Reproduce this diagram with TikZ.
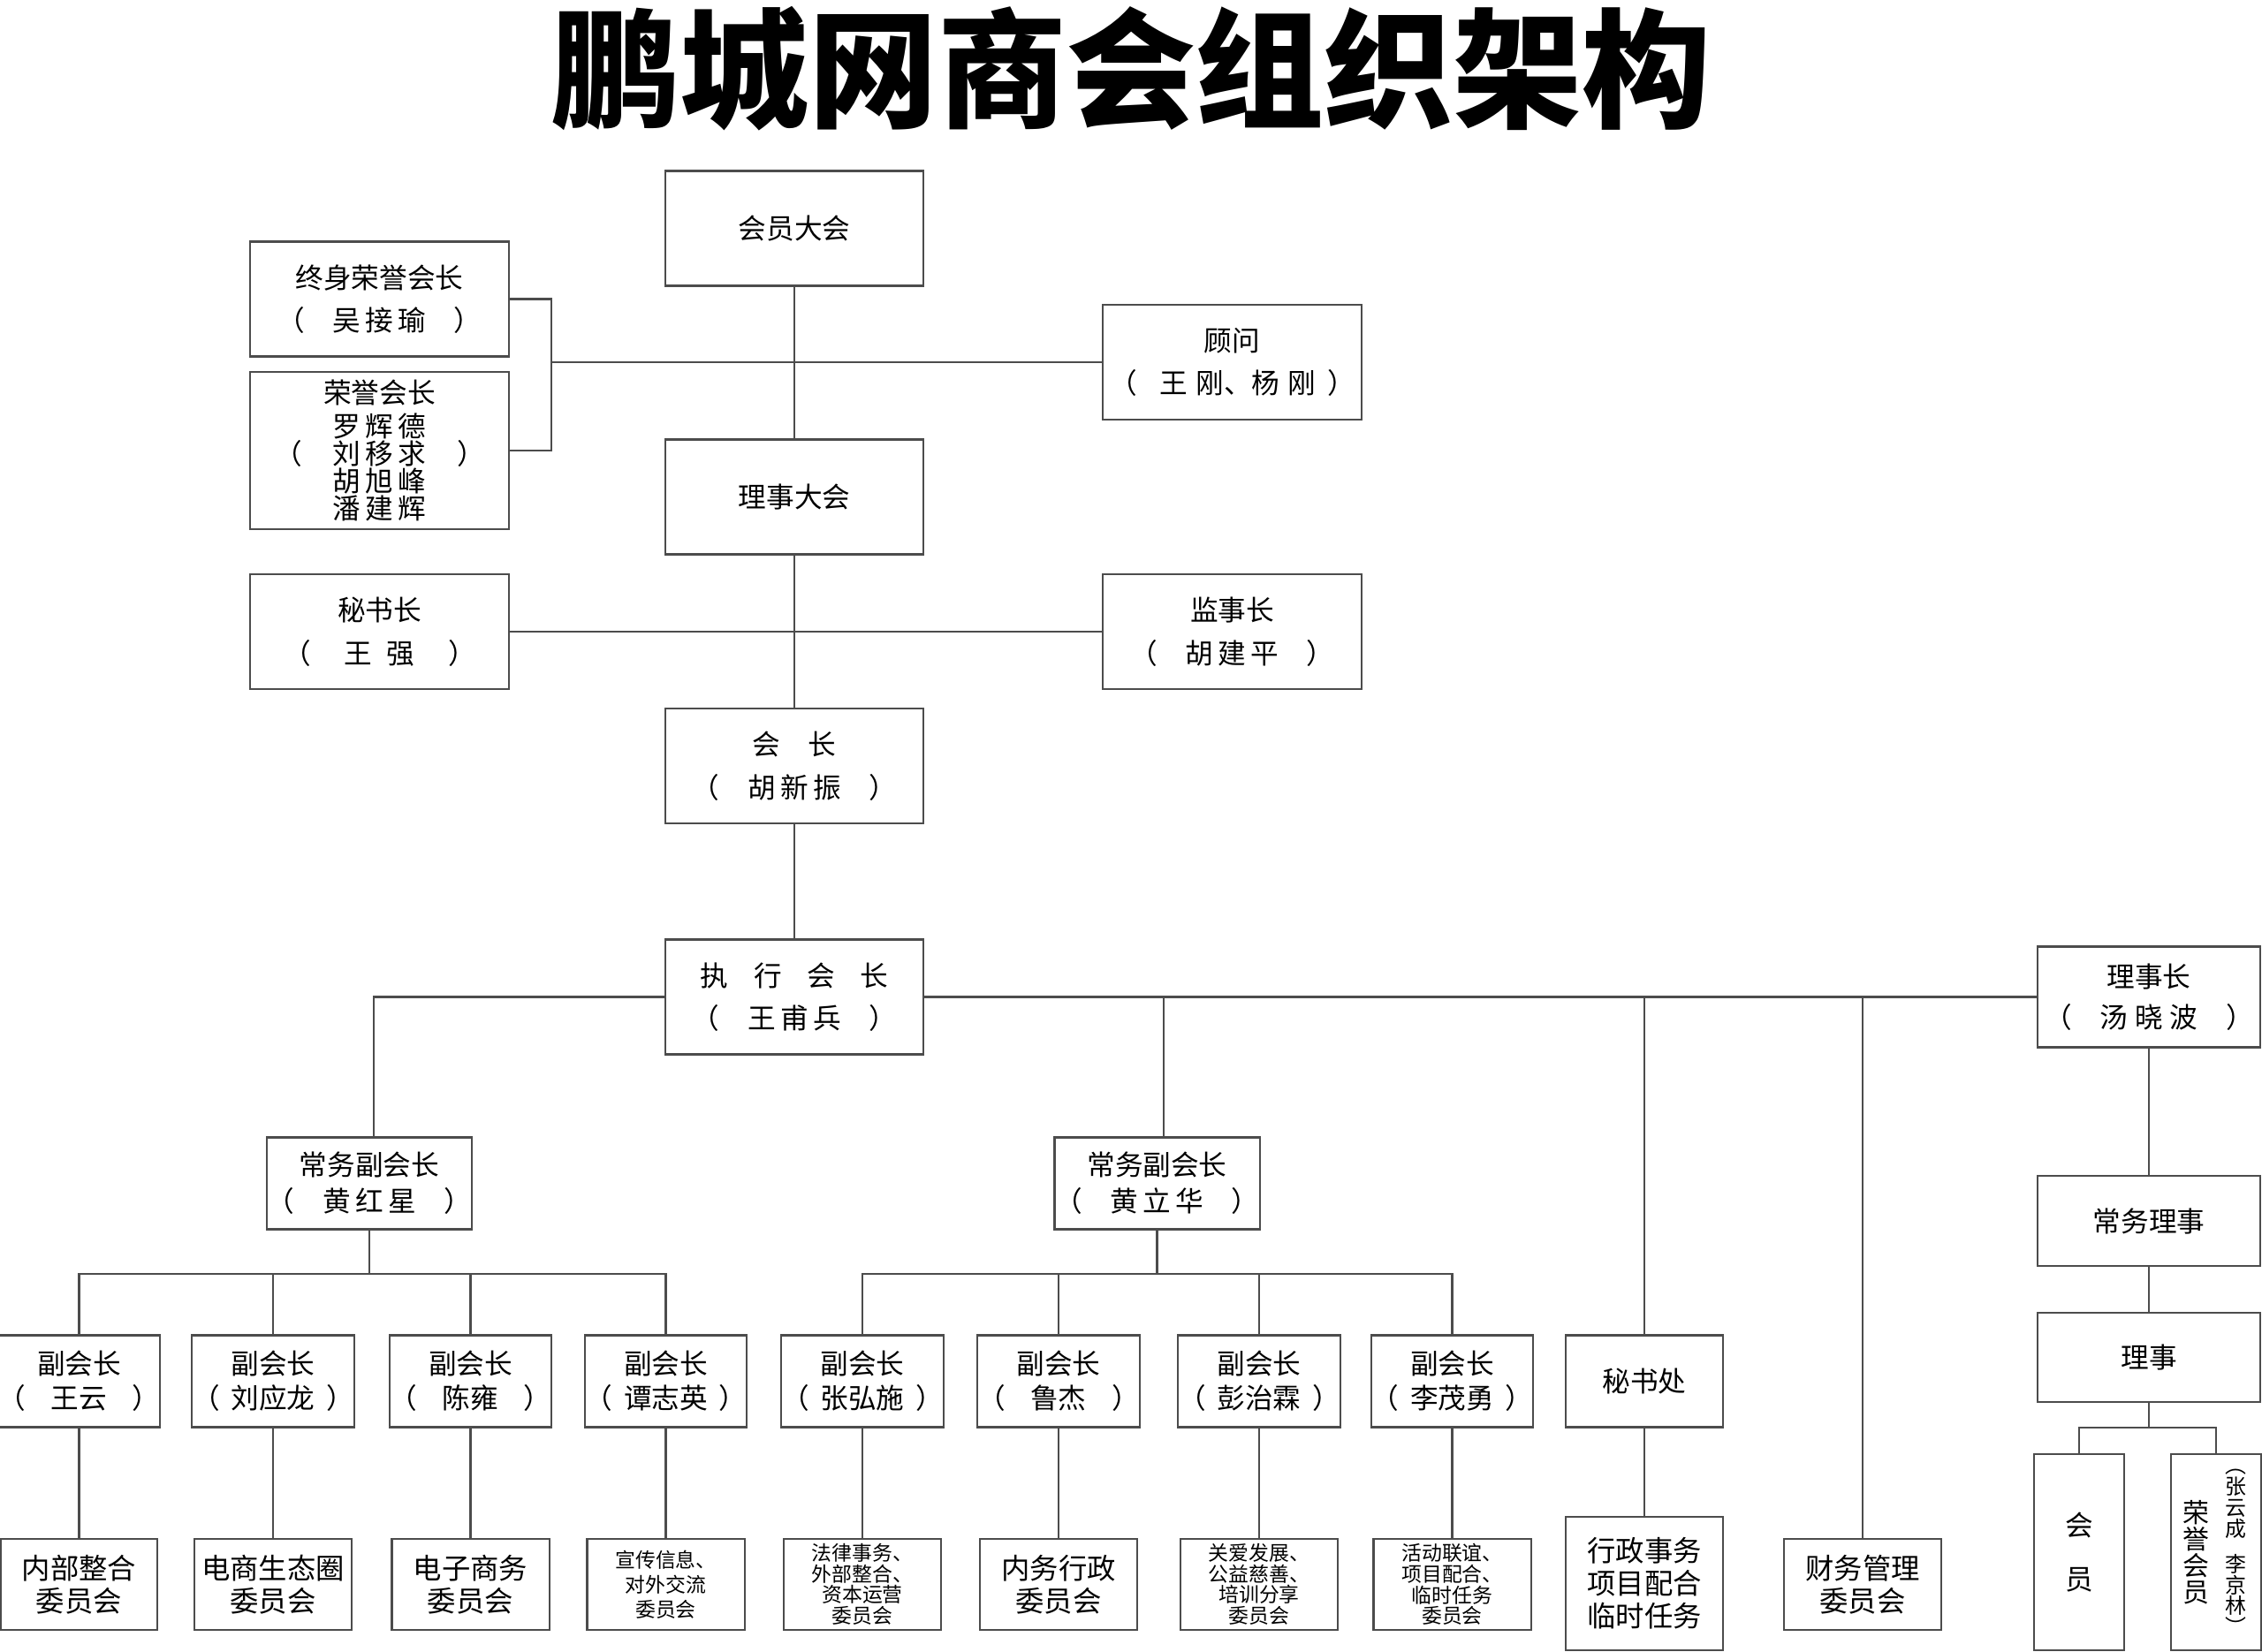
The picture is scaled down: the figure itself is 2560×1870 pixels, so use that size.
\documentclass[tikz,border=0pt]{standalone}
\usepackage{fontspec}
\setmainfont{Noto Sans CJK SC}

\begin{document}
\begin{tikzpicture}[x=0.01cm,y=-0.01cm,
		xian/.style={draw=black!70,line width=0.6pt},
		kuang/.style={xian,align=center,inner sep=0pt,font=\fontsize{9}{13.8}\selectfont},
		da/.style={kuang,minimum width=2.92cm,minimum height=1.3cm},
		cw/.style={kuang,minimum width=2.29cm,minimum height=1.04cm,font=\fontsize{9}{11.7}\selectfont},
		fh/.style={kuang,minimum width=1.78cm,minimum height=1.04cm,font=\fontsize{9}{11}\selectfont},
		wy/.style={kuang,minimum width=1.78cm,minimum height=1.03cm,font=\fontsize{9.2}{10.5}\selectfont},
		xiao/.style={font=\fontsize{6.5}{6.7}\selectfont},
		lsk/.style={kuang,minimum width=2.52cm}]
	\useasboundingbox (0,0) rectangle (2560,1870);
	\node (bt) at (1280,77.5) {\fontsize{41.5}{41.5}\selectfont\bfseries 鹏城网商会组织架构};

	\node[da] (hydh) at (899,258.5) {会员大会};
	\node[da] (zsry) at (429.5,338.5) {终身荣誉会长\\（\hspace{1em}吴\,接\,瑜\hspace{1em}）};
	\node[da,minimum height=1.78cm,font=\fontsize{9}{8.8}\selectfont] (ryhz) at (429.5,510) {荣誉会长\\[2pt]罗\,辉\,德\\\llap{（\hspace{1.1em}}刘\,移\,求\rlap{\hspace{1.1em}）}\\胡\,旭\,峰\\潘\,建\,辉};
	\node[da] (gw) at (1394.5,410) {顾问\\（\hspace{.8em}王\hspace{.3em}刚、杨\hspace{.3em}刚\hspace{.4em}）};
	\node[da] (lsdh) at (899,562.5) {理事大会};
	\node[da] (msz) at (429.5,715) {秘书长\\（\hspace{1.2em}王\hspace{.5em}强\hspace{1.2em}）};
	\node[da] (jsz) at (1394.5,715) {监事长\\（\hspace{1em}胡\,建\,平\hspace{1em}）};
	\node[da] (hz) at (899,867) {会\hspace{1em}长\\（\hspace{1em}胡\,新\,振\hspace{1em}）};
	\node[da] (zxhz) at (899,1128.5) {执\hspace{.9em}行\hspace{.9em}会\hspace{.9em}长\\（\hspace{1em}王\,甫\,兵\hspace{1em}）};

	\node[lsk,minimum height=1.14cm,font=\fontsize{9}{13.1}\selectfont] (lsz) at (2432,1128.5) {理事长\\（\hspace{1em}汤\hspace{.25em}晓\hspace{.25em}波\hspace{1em}）};
	\node[lsk,minimum height=1.02cm] (cwls) at (2432,1382) {常务理事};
	\node[lsk,minimum height=1.01cm] (ls) at (2432,1536.5) {理事};
	\node[kuang,minimum width=1.02cm,minimum height=2.22cm,font=\fontsize{9}{17.6}\selectfont] (hyy) at (2353,1757) {会\\员};
	\node[kuang,minimum width=1.02cm,minimum height=2.22cm] (ryhy) at (2508,1757) {\parbox[c]{1em}{\centering\fontsize{8.5}{8.5}\selectfont 荣\\誉\\会\\员}\hspace{3.8pt}\parbox[c]{1em}{\centering\fontsize{6.8}{6.8}\selectfont ︵\\张\\云\\成\\[4.5pt]李\\京\\林\\︶}};

	\node[cw] (cwL) at (418,1339.5) {常务副会长\\（\hspace{1em}黄\,红\,星\hspace{1em}）};
	\node[cw] (cwR) at (1309.5,1339.5) {常务副会长\\（\hspace{1em}黄\,立\,华\hspace{1em}）};

	\node[fh,minimum width=1.77cm] (fh1) at (89.5,1563.5) {副会长\\（\hspace{.9em}王云\hspace{.9em}）};
	\node[fh] (fh2) at (309,1563.5) {副会长\\（\hspace{.4em}刘应龙\hspace{.4em}）};
	\node[fh] (fh3) at (532.5,1563.5) {副会长\\（\hspace{.9em}陈雍\hspace{.9em}）};
	\node[fh] (fh4) at (753.5,1563.5) {副会长\\（\hspace{.4em}谭志英\hspace{.4em}）};
	\node[fh] (fh5) at (976,1563.5) {副会长\\（\hspace{.4em}张弘施\hspace{.4em}）};
	\node[fh] (fh6) at (1198,1563.5) {副会长\\（\hspace{.9em}鲁杰\hspace{.9em}）};
	\node[fh] (fh7) at (1425,1563.5) {副会长\\（\hspace{.4em}彭治霖\hspace{.4em}）};
	\node[fh] (fh8) at (1643.5,1563.5) {副会长\\（\hspace{.4em}李茂勇\hspace{.4em}）};
	\node[fh] (msc) at (1861,1563.5) {秘书处};

	\node[wy,minimum width=1.77cm] (wy1) at (89.5,1793.5) {内部整合\\委员会};
	\node[wy] (wy2) at (309,1793.5) {电商生态圈\\委员会};
	\node[wy] (wy3) at (532.5,1793.5) {电子商务\\委员会};
	\node[wy,font=\fontsize{6.5}{8}\selectfont] (wy4) at (753.5,1793.5) {宣传信息、\\对外交流\\委员会};
	\node[wy,xiao] (wy5) at (976,1793.5) {法律事务、\\外部整合、\\资本运营\\委员会};
	\node[wy] (wy6) at (1198,1793.5) {内务行政\\委员会};
	\node[wy,xiao] (wy7) at (1425,1793.5) {关爱发展、\\公益慈善、\\培训分享\\委员会};
	\node[wy,xiao] (wy8) at (1643.5,1793.5) {活动联谊、\\项目配合、\\临时任务\\委员会};
	\node[wy,minimum height=1.51cm] (xzsw) at (1861,1792.5) {行政事务\\项目配合\\临时任务};
	\node[wy] (cwgl) at (2108,1793.5) {财务管理\\委员会};

	\coordinate (qz) at (624,410);
	\coordinate (yL) at (0,1442);
	\coordinate (yR) at (0,1616);
	\coordinate (tL) at (423,1128.5);
	\coordinate (tR) at (1317,1128.5);

	\draw[xian] (hydh) -- (lsdh);
	\draw[xian] (zsry) -| (qz) |- (ryhz);
	\draw[xian] (qz) -- (gw);
	\draw[xian] (msz) -- (jsz);
	\draw[xian] (lsdh) -- (hz);
	\draw[xian] (hz) -- (zxhz);
	\draw[xian] (zxhz) -- (tL) -- (tL |- cwL.north);
	\draw[xian] (zxhz) -- (lsz);
	\draw[xian] (tR) -- (tR |- cwR.north);
	\draw[xian] (msc) -- (msc |- zxhz);
	\draw[xian] (cwgl) -- (cwgl |- zxhz);

	\draw[xian] (fh1) |- (fh4 |- yL) -- (fh4);
	\draw[xian] (fh2) -- (fh2 |- yL);
	\draw[xian] (fh3) -- (fh3 |- yL);
	\draw[xian] (cwL) -- (cwL |- yL);
	\draw[xian] (fh5) |- (fh8 |- yL) -- (fh8);
	\draw[xian] (fh6) -- (fh6 |- yL);
	\draw[xian] (fh7) -- (fh7 |- yL);
	\draw[xian] (cwR) -- (cwR |- yL);

	\draw[xian] (fh1) -- (wy1);
	\draw[xian] (fh2) -- (wy2);
	\draw[xian] (fh3) -- (wy3);
	\draw[xian] (fh4) -- (wy4);
	\draw[xian] (fh5) -- (wy5);
	\draw[xian] (fh6) -- (wy6);
	\draw[xian] (fh7) -- (wy7);
	\draw[xian] (fh8) -- (wy8);
	\draw[xian] (msc) -- (xzsw);

	\draw[xian] (lsz) -- (cwls);
	\draw[xian] (cwls) -- (ls);
	\draw[xian] (ls) -- (ls |- yR);
	\draw[xian] (hyy) |- (ryhy |- yR) -- (ryhy);
\end{tikzpicture}
\end{document}
